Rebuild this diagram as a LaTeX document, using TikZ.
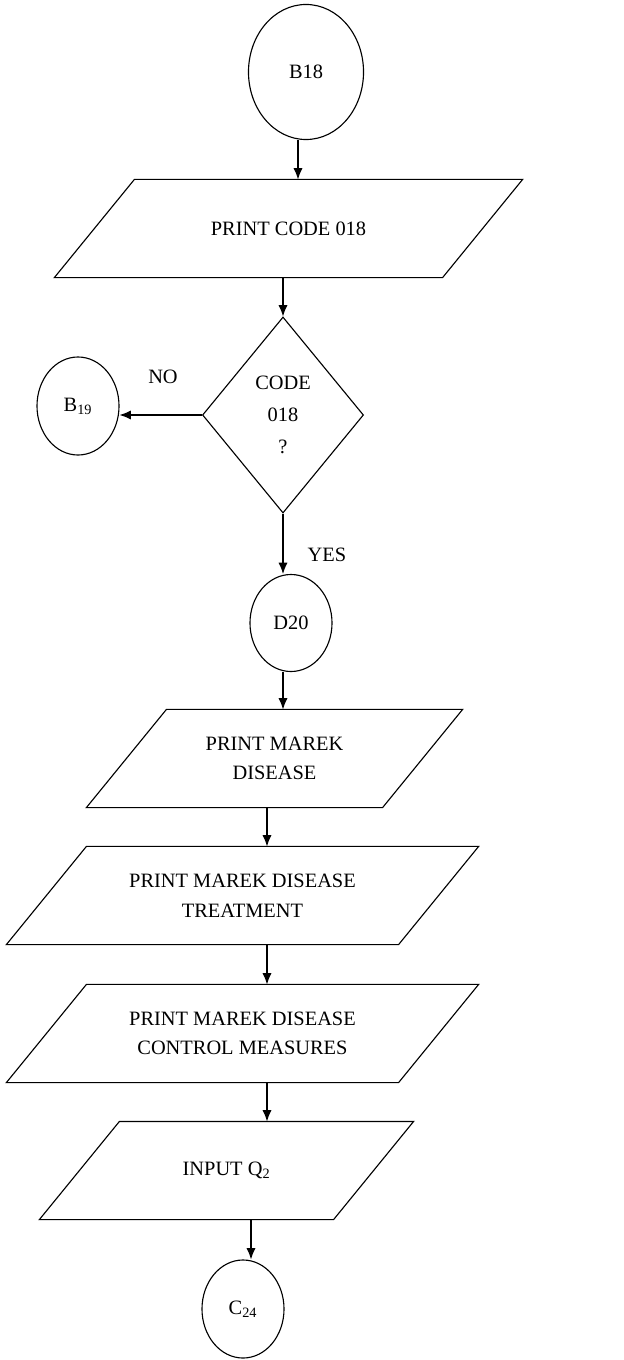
\documentclass[tikz,border=0pt]{standalone}
\usepackage{fontspec}
\setmainfont{Liberation Serif}
\usetikzlibrary{shapes.geometric,arrows.meta}

\begin{document}
\begin{tikzpicture}[x=0.025cm, y=-0.025cm, >={Latex[length=8pt,width=6.5pt]}, line width=0.8pt,
    every node/.style={font=\fontsize{14.5}{21}\selectfont},
    connnode/.style={ellipse, draw, inner sep=0pt, minimum width=2.05cm, minimum height=2.45cm},
    iobox/.style={minimum height=2.425cm, inner sep=0pt, align=center,
        append after command={\pgfextra{\draw ([xshift=2cm]\tikzlastnode.north west)
            -- (\tikzlastnode.north east) -- ([xshift=-2cm]\tikzlastnode.south east)
            -- (\tikzlastnode.south west) -- cycle;}}},
    decision/.style={diamond, draw, inner sep=0pt, minimum width=4.025cm, minimum height=4.9cm,
        align=center, font=\fontsize{14.5}{23}\selectfont},]
    \useasboundingbox (0,0) rectangle (624,1360);

    %Nodes
    \node[connnode, minimum width=2.875cm, minimum height=3.375cm] (b18) at (306,72) {B18};
    \node[iobox, minimum width=11.675cm] (code) at (288.5,228.5) {PRINT CODE 018};
    \node[decision] (check) at (283,415) {CODE\\018\\?};
    \node[connnode] (b19) at (78,406) {B\textsubscript{19}};
    \node[connnode, minimum height=2.425cm] (d20) at (291,623) {D20};
    \node[iobox, minimum width=9.375cm] (marek) at (274.5,758.5) {PRINT MAREK\\DISEASE};
    \node[iobox, minimum width=11.775cm] (treat) at (242.5,895.5) {PRINT MAREK DISEASE\\TREATMENT};
    \node[iobox, minimum width=11.775cm] (control) at (242.5,1033.5) {PRINT MAREK DISEASE\\CONTROL MEASURES};
    \node[iobox, minimum width=9.325cm] (input) at (226.5,1170.5) {INPUT Q\textsubscript{2}};
    \node[connnode] (c24) at (243,1309) {C\textsubscript{24}};

    %Labels
    \node (no) at (163,377) {NO};
    \node (yes) at (327,555) {YES};

    %Columns of the arrows
    \coordinate (colA) at (298,0);
    \coordinate (colB) at (283,0);
    \coordinate (colC) at (267,0);
    \coordinate (colD) at (251,0);

    %Lines
    \draw[->] (b18.south -| colA) -- (code.north -| colA);
    \draw[->] (code.south -| colB) -- (check.north);
    \draw[->] (check.west) -- (check.west -| b19.east);
    \draw[->] (check.south) -- (d20.north -| colB);
    \draw[->] (d20.south -| colB) -- (marek.north -| colB);
    \draw[->] (marek.south -| colC) -- (treat.north -| colC);
    \draw[->] (treat.south -| colC) -- (control.north -| colC);
    \draw[->] (control.south -| colC) -- (input.north -| colC);
    \draw[->] (input.south -| colD) -- (c24.north -| colD);
\end{tikzpicture}
\end{document}
